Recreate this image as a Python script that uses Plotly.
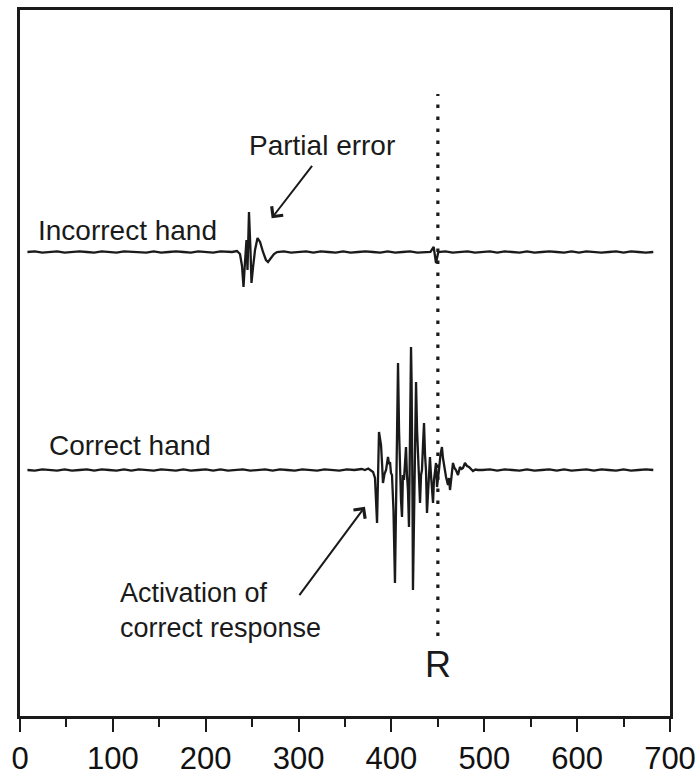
import numpy as np
import plotly.graph_objects as go

# ---- axis ----
x_tick_vals = [0, 100, 200, 300, 400, 500, 600, 700]
x_tick_text = ["0", "100", "200", "300", "400", "500", "600", "700"]
response_time = 450          # R marker (ms)

# ---- vertical placement of the two EMG channels (arbitrary units) ----
incorrect_offset = 464
correct_offset = 246

# ---- incorrect hand EMG ----
inc_pre_noise = [0, 0.7, -0.7, 0, 0.7, -0.7, 0, 0.7, 0, -0.7, 0.7, 0, -0.7, 0.7, 0, 0,
                 -0.7, 0.7, -0.7, 0, 0.7, 0, -0.7, 0.7, 0, -0.7, 0.7, 0]       # t = 8, 16, ...
inc_burst_t = [228.3, 233.7, 236.9, 239.1, 240.7, 242.3, 243.9, 245.0, 246.6, 248.2,
               249.3, 250.9, 253.1, 255.8, 258.5, 261.7, 264.9, 267.1, 270.3, 273.5, 276.8]
inc_burst_v = [0, 1, -2, -14, -35, -10, 12, -18, 40, 2,
               -31, -16, 2, 14, 10, 0, -8, -10, -6, -2, 0]
inc_mid_noise = [0.7, -0.7, 0, 0.7, -0.7, 0.7, 0, -0.7, 0.7, -0.7, 0, 0.7, 0, -0.7,
                 0.7, -0.7, 0, 0.7, -0.7, 0]                                   # t = 284, 292, ...
inc_blip_t = [442, 445.5, 448, 450.5]
inc_blip_v = [0, 5, -11, 0]
inc_post_noise = [0.7, -0.7, 0, 0.7, -0.7, 0, 0.7, -0.7, 0.7, 0, -0.7, 0.7, -0.7, 0,
                  0.7, 0, -0.7, 0.7, -0.7, 0.7, 0, -0.7, 0, 0.7, -0.7, 0.7, 0, -0.7, 0]  # t = 458, ...

# ---- correct hand EMG ----
cor_pre_noise = [0, -0.7, 0.7, 0, -0.7, 0.7, -0.7, 0, 0.7, -0.7, 0.7, 0, -0.7, 0.7, -0.7,
                 0.7, 0, -0.7, 0.7, 0, -0.7, 0.7, -0.7, 0, 0.7, -0.7, 0.7, -0.7, 0, 0.7,
                 -0.7, 0, 0.7, -0.7, 0.7, 0, -0.7, 0.7, 0, -0.7, 0.7, 0, -0.7, 0.7, 0, 1]  # t = 8, ...
cor_burst_t = [371.5, 375.0, 378.0, 380.2, 382.3, 384.5, 386.6, 387.7, 388.8, 390.0,
               390.9, 392.5, 394.2, 396.3, 397.4, 398.5, 399.5, 400.6, 402.2, 403.8,
               405.4, 407.1, 408.2, 409.2, 410.3, 411.4, 412.4, 413.5, 414.6, 415.7,
               416.7, 417.8, 418.9, 419.5, 420.0, 421.1, 421.7, 422.2, 422.7, 423.2,
               424.3, 425.4, 426.5, 427.6, 428.6, 429.7, 430.8, 431.9, 432.9, 434.0,
               435.1, 436.2, 437.2, 438.3, 439.4, 440.5, 441.5, 442.6, 443.7, 444.8,
               445.8, 446.9, 448.0, 449.1, 450.2, 451.2, 452.8, 454.4, 455.5, 456.6,
               457.7, 458.8, 460.9, 462.0, 463.1, 464.7, 466.3, 467.9, 469.5, 471.7,
               473.8, 475.5, 477.1, 479.2, 481.4, 483.5, 485.7, 487.8, 490.5, 493.2]
cor_burst_v = [0, 1.5, -1, -2, -8, -53, 38, 30, 25, 5,
               -13, -4, 0, 13, 6, 8, -3, -5, -40, -113,
               20, 107, 40, 0, -30, -47, -5, -10, 15, 23,
               -5, -20, -57, -10, 0, 123, 90, 50, -30, -120,
               -40, 0, 88, 40, 20, -10, -33, -5, 0, 25,
               47, 15, 0, -43, -25, -10, 13, -5, -20, -33,
               -10, 0, 7, -17, -10, 0, 15, 23, 12, 5,
               -3, -7, -15, -8, -20, -5, 7, 2, 0, -5,
               3, 1, 2, 7, 4, 3, 1, -1, 0.5, 0]
cor_post_noise = [0, 0.7, -0.7, 0.7, 0, -0.7, 0.7, -0.7, 0, 0.7, -0.7, 0.7, -0.7, 0,
                  0.7, -0.7, 0.7, 0, -0.7, 0.7, -0.7, 0, 0.7, 0]                # t = 498, ...

SAMPLE_STEP = 8


def noise_segment(start, values):
    t = start + SAMPLE_STEP * np.arange(len(values))
    return list(t), list(values)


def build_trace(parts, offset):
    ts, vs = [], []
    for t, v in parts:
        ts += list(t)
        vs += list(v)
    return ts, [offset + v for v in vs]


inc_t, inc_y = build_trace([
    noise_segment(8, inc_pre_noise),
    (inc_burst_t, inc_burst_v),
    noise_segment(284, inc_mid_noise),
    (inc_blip_t, inc_blip_v),
    noise_segment(458, inc_post_noise),
], incorrect_offset)

cor_t, cor_y = build_trace([
    noise_segment(8, cor_pre_noise),
    (cor_burst_t, cor_burst_v),
    noise_segment(498, cor_post_noise),
], correct_offset)

INK = "#1a1a1a"
SANS = "Liberation Sans, Arial, sans-serif"
TEXT_FONT = dict(family=SANS, size=28, color=INK)

fig = go.Figure()
for t, y in [(inc_t, inc_y), (cor_t, cor_y)]:
    fig.add_trace(go.Scatter(x=t, y=y, mode="lines",
                             line=dict(color=INK, width=2.3),
                             hoverinfo="skip", showlegend=False))

# response marker
fig.add_shape(type="line", x0=response_time, x1=response_time, y0=80, y1=622,
              xref="x", yref="y", layer="below",
              line=dict(color=INK, width=3.2, dash="3.5px,8.5px"))

annotations = [
    dict(text="Partial error", x=324.7, y=571, xanchor="center", yanchor="middle"),
    dict(text="Incorrect hand", x=16.7, y=486, xanchor="left", yanchor="middle"),
    dict(text="Correct hand", x=29, y=271, xanchor="left", yanchor="middle"),
]
for a in annotations:
    fig.add_annotation(xref="x", yref="y", showarrow=False, font=TEXT_FONT, **a)

fig.add_annotation(text="Activation of<br>correct response", x=105.5, y=106,
                   xref="x", yref="y", showarrow=False, align="left",
                   xanchor="left", yanchor="middle",
                   font=dict(family=SANS, size=27, color=INK))

fig.add_annotation(text="R", x=response_time, y=52, xref="x", yref="y",
                   showarrow=False, xanchor="center", yanchor="middle",
                   font=dict(family=SANS, size=36, color=INK))

# arrows: head at (x, y), tail at (ax, ay)
arrows = [
    dict(x=271, y=497.7, ax=315.8, ay=551.7),
    dict(x=371.5, y=209.3, ax=299.7, ay=119.3),
]
for a in arrows:
    fig.add_annotation(text="", xref="x", yref="y", axref="x", ayref="y",
                       showarrow=True, arrowhead=4, arrowsize=1.4, arrowwidth=2,
                       arrowcolor=INK, standoff=0, startstandoff=0, **a)

fig.update_layout(
    width=696, height=778,
    margin=dict(l=20, r=26, t=10, b=62),
    paper_bgcolor="white", plot_bgcolor="white",
    xaxis=dict(range=[0, 700], tickvals=x_tick_vals, ticktext=x_tick_text,
               ticks="outside", ticklen=13, tickwidth=2, tickcolor=INK,
               minor=dict(dtick=50, ticks="outside", ticklen=8, tickwidth=2, tickcolor=INK),
               showline=True, linewidth=2.8, linecolor=INK, mirror=True,
               showgrid=False, zeroline=False, automargin=False,
               ticklabeloverflow="allow",
               tickfont=dict(family=SANS, size=31, color="#111")),
    yaxis=dict(range=[0, 706], showticklabels=False, ticks="",
               showline=True, linewidth=2.8, linecolor=INK, mirror=True,
               showgrid=False, zeroline=False, automargin=False),
)

fig.write_html("out.html")
